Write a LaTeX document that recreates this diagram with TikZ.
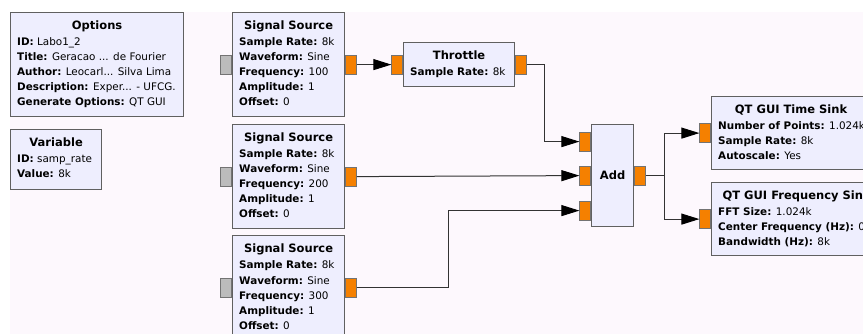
\documentclass[tikz,border=0pt]{standalone}
\usepackage{fontspec}
\setmainfont{DejaVu Sans}
\usetikzlibrary{arrows.meta,positioning,calc}
\definecolor{canvas}{RGB}{253,248,253}
\definecolor{blockfill}{RGB}{238,238,254}
\definecolor{blockline}{RGB}{96,96,96}
\definecolor{portorange}{RGB}{245,128,0}
\definecolor{portgray}{RGB}{188,188,188}
\tikzset{
  block/.style={draw=blockline, fill=blockfill, line width=1.2pt, inner sep=0pt, anchor=north west},
  blktitle/.style={anchor=base, inner sep=0pt, font=\fontsize{11.5}{14}\selectfont\bfseries},
  blkparam/.style={anchor=base west, inner sep=0pt, font=\fontsize{10.4}{12}\selectfont},
  port/.style={draw=black!55, fill=portorange, line width=.6pt, minimum width=11pt, minimum height=19pt, inner sep=0pt},
  idleport/.style={port, fill=portgray},
  wire/.style={draw=black!80, line width=1pt},
  flow/.style={wire, -{Triangle[length=18pt,width=11pt,color=black]}},
}
\protected\def\elide{...}
% title and parameter lines of one block
\newcommand{\blocktext}[3]{%
  \node[blktitle] (#1-title) at ($(#1.north)+(0,17.5)$) {#2};
  \foreach \ln [count=\i] in {#3}
    \node[blkparam] (#1-p\i) at ($(#1.north west)+(7,19+15*\i)$) {\ln};
}
\begin{document}
\begin{tikzpicture}[x=1pt, y=-1pt, >=Stealth]
  \useasboundingbox (0,0) rectangle (863,334);
  \clip (0,0) rectangle (863,334);
  \fill[white] (0,0) rectangle (863,334);
  \fill[canvas] (10,12) rectangle (863,334);

  % variable blocks
  \node[block, minimum width=173pt, minimum height=104pt] (opts) at (10,12) {};
  \blocktext{opts}{Options}{\textbf{ID:} Labo1\_2, \textbf{Title:} Geracao \elide{} de Fourier,
    \textbf{Author:} Leocarl\elide{} Silva Lima, \textbf{Description:} Exper\elide{} - UFCG.,
    \textbf{Generate Options:} QT GUI}
  \node[block, minimum width=91pt, minimum height=60pt] (var) at (10,129) {};
  \blocktext{var}{Variable}{\textbf{ID:} samp\_rate, \textbf{Value:} 8k}

  % sources
  \node[block, minimum width=112pt, minimum height=104pt] (src1) at (232,12) {};
  \blocktext{src1}{Signal Source}{\textbf{Sample Rate:} 8k, \textbf{Waveform:} Sine,
    \textbf{Frequency:} 100, \textbf{Amplitude:} 1, \textbf{Offset:} 0}
  \node[block, minimum width=112pt, minimum height=104pt] (src2) at (232,124) {};
  \blocktext{src2}{Signal Source}{\textbf{Sample Rate:} 8k, \textbf{Waveform:} Sine,
    \textbf{Frequency:} 200, \textbf{Amplitude:} 1, \textbf{Offset:} 0}
  \node[block, minimum width=112pt, minimum height=104pt] (src3) at (232,235) {};
  \blocktext{src3}{Signal Source}{\textbf{Sample Rate:} 8k, \textbf{Waveform:} Sine,
    \textbf{Frequency:} 300, \textbf{Amplitude:} 1, \textbf{Offset:} 0}
  \foreach \s in {src1,src2,src3} {
    \node[idleport, anchor=east] (\s-in) at (\s.west) {};
    \node[port, anchor=west] (\s-out) at (\s.east) {};
  }

  % throttle
  \node[block, minimum width=111pt, minimum height=44pt] (thr) at (403,42) {};
  \blocktext{thr}{Throttle}{\textbf{Sample Rate:} 8k}
  \node[port, anchor=east] (thr-in) at (thr.west) {};
  \node[port, anchor=west] (thr-out) at (thr.east) {};

  % adder
  \node[block, minimum width=42pt, minimum height=102pt] (add) at (591,124) {};
  \node[blktitle, anchor=center] (add-title) at (add.center) {Add};
  \node[port, anchor=east] (add-in0) at ($(add.west)+(0,-34)$) {};
  \node[port, anchor=east] (add-in1) at (add.west) {};
  \node[port, anchor=east] (add-in2) at ($(add.west)+(0,35)$) {};
  \node[port, anchor=west] (add-out) at (add.east) {};

  % sinks
  \node[block, minimum width=159pt, minimum height=73pt] (tsink) at (711,96) {};
  \blocktext{tsink}{QT GUI Time Sink}{\textbf{Number of Points:} 1.024k,
    \textbf{Sample Rate:} 8k, \textbf{Autoscale:} Yes}
  \node[port, anchor=east] (tsink-in) at (tsink.west) {};
  \node[block, minimum width=170pt, minimum height=73pt] (fsink) at (711,182) {};
  \blocktext{fsink}{QT GUI Frequency Sink}{\textbf{FFT Size:} 1.024k,
    \textbf{Center Frequency (Hz):} 0, \textbf{Bandwidth (Hz):} 8k}
  \node[port, anchor=east] (fsink-in) at (fsink.west) {};

  % connections
  \draw[flow] (src1-out.east) -- (thr-in.west);
  \draw[flow] (thr-out.east) -- ++(18,0) |- (add-in0.west);
  \draw[flow] (src2-out.east) -- (add-in1.west);
  \draw[flow] (src3-out.east) -- ++(92,0) |- (add-in2.west);
  \draw[flow] (add-out.east) -- ++(19,0) |- (tsink-in.west);
  \draw[flow] (add-out.east) -- ++(19,0) |- (fsink-in.west);
\end{tikzpicture}
\end{document}
